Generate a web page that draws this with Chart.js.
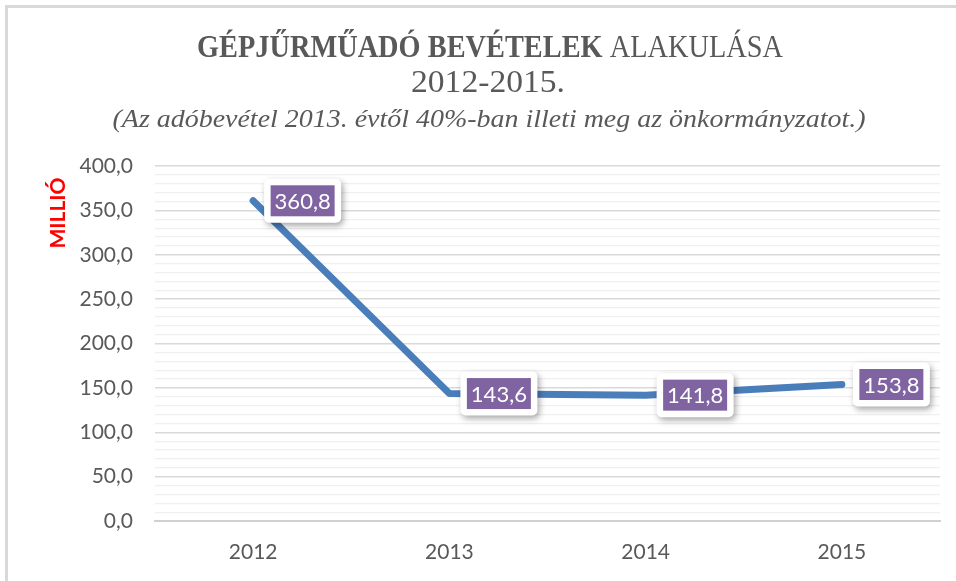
<!DOCTYPE html>
<html>
<head>
<meta charset="utf-8">
<script src="https://cdn.jsdelivr.net/npm/chart.js@4.4.1/dist/chart.umd.min.js"></script>
<style>
  html, body { margin: 0; padding: 0; background: #ffffff; }
  #wrap { width: 956px; height: 581px; position: relative; }
</style>
</head>
<body>
<div id="wrap"><canvas id="c" width="956" height="581"></canvas></div>
<script>
// ---- data ----
const categories = ['2012', '2013', '2014', '2015'];
const revenue = [360.8, 143.6, 141.8, 153.8];
const valueLabels = ['360,8', '143,6', '141,8', '153,8'];
const yTickLabels = ['0,0', '50,0', '100,0', '150,0', '200,0', '250,0', '300,0', '350,0', '400,0'];
const titleBold = 'GÉPJŰRMŰADÓ BEVÉTELEK';
const titleNormal = ' ALAKULÁSA';
const titleLine2 = '2012-2015.';
const subtitleText = '(Az adóbevétel 2013. évtől 40%-ban illeti meg az önkormányzatot.)';
const yAxisTitle = 'MILLIÓ';

const TEXT_GRAY = '#595959';
const SERIF = '"Liberation Serif", "DejaVu Serif", serif';
const SANS = 'Lato, "Open Sans", sans-serif';

// draw a run of [text, font] parts centred at cx, stretched to a target width
function drawFitted(ctx, parts, cx, y, targetW) {
  let total = 0;
  const widths = parts.map(p => { ctx.font = p[1]; const w = ctx.measureText(p[0]).width; total += w; return w; });
  const sx = targetW / total;
  ctx.save();
  ctx.translate(cx - targetW / 2, y);
  ctx.scale(sx, 1);
  ctx.textAlign = 'left';
  ctx.textBaseline = 'alphabetic';
  let x = 0;
  parts.forEach((p, i) => { ctx.font = p[1]; ctx.fillText(p[0], x, 0); x += widths[i]; });
  ctx.restore();
}

const decorPlugin = {
  id: 'decor',
  beforeDraw(chart) {
    const ctx = chart.ctx;
    ctx.save();
    ctx.fillStyle = '#ffffff';
    ctx.fillRect(0, 0, chart.width, chart.height);
    ctx.strokeStyle = '#d9d9d9';
    ctx.lineWidth = 3;
    ctx.strokeRect(6.5, 6.5, 1200, 1200);
    ctx.restore();
  },
  afterDraw(chart) {
    const ctx = chart.ctx;
    ctx.save();
    ctx.fillStyle = TEXT_GRAY;
    drawFitted(ctx, [[titleBold, 'bold 32px ' + SERIF], [titleNormal, '32px ' + SERIF]], 490, 57, 586);
    drawFitted(ctx, [[titleLine2, '31px ' + SERIF]], 488, 92, 154);
    drawFitted(ctx, [[subtitleText, 'italic 26px ' + SERIF]], 489, 127, 753);
    // y axis title
    ctx.translate(58, 213);
    ctx.rotate(-Math.PI / 2);
    ctx.fillStyle = '#ff0000';
    ctx.font = 'bold 21px ' + SANS;
    ctx.textAlign = 'center';
    ctx.textBaseline = 'middle';
    ctx.fillText(yAxisTitle, 0, 0);
    ctx.restore();
  },
  afterDatasetsDraw(chart) {
    const ctx = chart.ctx;
    const meta = chart.getDatasetMeta(0);
    meta.data.forEach((pt, i) => {
      const bx = pt.x + 11, bw = 77, bh = 44;
      const by = pt.y - bh / 2;
      ctx.save();
      ctx.shadowColor = 'rgba(0,0,0,0.35)';
      ctx.shadowBlur = 6;
      ctx.shadowOffsetX = 2;
      ctx.shadowOffsetY = 3;
      ctx.fillStyle = '#ffffff';
      ctx.beginPath();
      ctx.roundRect(bx, by, bw, bh, 5);
      ctx.fill();
      ctx.restore();
      ctx.save();
      ctx.fillStyle = '#8064a2';
      const pw = 64, ph = 31;
      ctx.fillRect(bx + (bw - pw) / 2, by + (bh - ph) / 2, pw, ph);
      ctx.fillStyle = '#ffffff';
      ctx.font = '22px ' + SANS;
      ctx.textAlign = 'center';
      ctx.textBaseline = 'middle';
      ctx.fillText(valueLabels[i], bx + bw / 2, pt.y + 1);
      ctx.restore();
    });
  }
};

new Chart(document.getElementById('c'), {
  type: 'line',
  data: {
    labels: categories,
    datasets: [{
      data: revenue,
      borderColor: '#4a7ebb',
      borderWidth: 7,
      borderCapStyle: 'round',
      borderJoinStyle: 'round',
      pointRadius: 0,
      pointHoverRadius: 0,
      tension: 0,
      fill: false
    }]
  },
  options: {
    responsive: false,
    animation: false,
    devicePixelRatio: 1,
    layout: { padding: { top: 166, right: 16, left: 0, bottom: 0 } },
    plugins: {
      legend: { display: false },
      title: { display: false },
      tooltip: { enabled: false }
    },
    scales: {
      x: {
        type: 'category',
        offset: true,
        grid: { display: false, drawTicks: false },
        border: { display: true, color: '#d0d0d0', width: 2 },
        ticks: { color: TEXT_GRAY, font: { family: SANS, size: 21 }, padding: 19 },
        afterFit(s) { s.height = 60; }
      },
      y: {
        min: 0,
        max: 400,
        grid: {
          drawTicks: false,
          color(ctx) { return ctx.tick && ctx.tick.value % 50 === 0 ? '#d9d9d9' : '#f0f0f0'; },
          lineWidth(ctx) { return ctx.tick && ctx.tick.value % 50 === 0 ? 1.5 : 1.2; }
        },
        border: { display: false },
        ticks: {
          stepSize: 10,
          autoSkip: false,
          color: TEXT_GRAY,
          font: { family: SANS, size: 21 },
          padding: 22,
          callback(v) { return v % 50 === 0 ? yTickLabels[v / 50] : ''; }
        },
        afterFit(s) { s.width = 155; }
      }
    }
  },
  plugins: [decorPlugin]
});
</script>
</body>
</html>
